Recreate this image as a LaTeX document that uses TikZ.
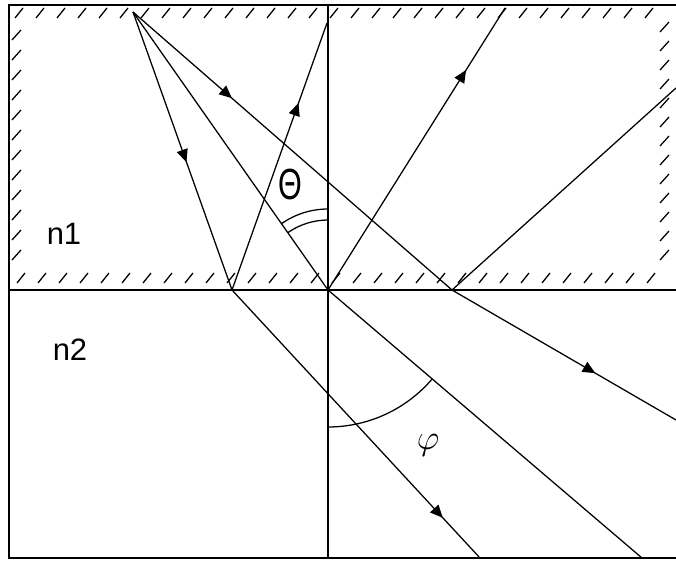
\documentclass[tikz,border=0pt]{standalone}
\usepackage{fontspec}
\setmainfont{Liberation Sans}
\usepackage{tikz}
\usetikzlibrary{arrows.meta, decorations.markings}

\tikzset{
  frame/.style={line width=1.5pt},
  ray/.style={line width=0.9pt},
  hatch/.style={line width=0.9pt},
  arrowat/.style={postaction={decorate}, decoration={markings,
      mark=at position #1 with {\arrow{Triangle[length=9pt, width=8pt]}}}},
  mediumtext/.style={font=\fontsize{22}{26}\selectfont, inner sep=0pt}
}

\begin{document}
\begin{tikzpicture}[x=0.025cm, y=0.025cm]
  \useasboundingbox (0,0) rectangle (676,560);

  % Šrafování (zrcadlící stěny)
  \foreach \x in {15,36,...,660} \draw[hatch] (\x,542) -- ++(8,10);
  \foreach \y in {300,320,...,530} \draw[hatch] (12,\y) -- ++(9,10);
  \foreach \y in {300,319,...,528} \draw[hatch] (660,\y) -- ++(9,10);
  \foreach \x in {17,38,...,650} \draw[hatch] (\x,277) -- ++(8,10);

  % Rám a rozhraní
  \draw[frame] (676,555) -- (9,555) -- (9,2) -- (676,2);
  \draw[frame] (9,270) -- (676,270);
  \draw[frame] (328,2) -- (328,555);

  % Body
  \coordinate (S) at (133,548);
  \coordinate (A) at (232,270);
  \coordinate (B) at (328,270);
  \coordinate (C) at (452,270);
  \coordinate (RA) at (327,537);
  \coordinate (RB) at (505,552);
  \coordinate (RC) at (676,472);
  \coordinate (TA) at (480,2);
  \coordinate (TB) at (642,2);
  \coordinate (TC) at (676,140);

  % Dopadající paprsky
  \draw[ray, arrowat=0.54] (S) -- (A);
  \draw[ray] (S) -- (B);
  \draw[ray, arrowat=0.31] (S) -- (C);
  % Odražené paprsky
  \draw[ray, arrowat=0.70] (A) -- (RA);
  \draw[ray, arrowat=0.78] (B) -- (RB);
  \draw[ray] (C) -- (RC);
  % Lomené paprsky
  \draw[ray, arrowat=0.85] (A) -- (TA);
  \draw[ray] (B) -- (TB);
  \draw[ray, arrowat=0.64] (C) -- (TC);

  % Úhly
  \draw[ray] (B) ++(90:70) arc (90:125:70);
  \draw[ray] (B) ++(90:81) arc (90:125:81);
  \draw[ray] (B) ++(270:137) arc (270:319.5:137);

  % Popisky
  \node[mediumtext] (n1) at (64,326) {n1};
  \node[mediumtext] (n2) at (70,210) {n2};
  \node[font=\fontsize{31}{34}\selectfont, inner sep=0pt, xscale=0.7] (theta) at (290,376) {Θ};
  \node[font=\fontsize{30}{32}\selectfont, inner sep=0pt] (phi) at (428,115) {$\varphi$};
\end{tikzpicture}
\end{document}
